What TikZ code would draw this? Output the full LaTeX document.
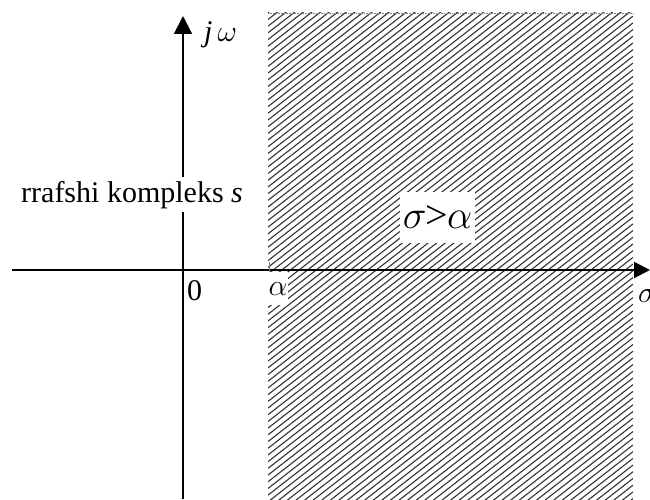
\documentclass[tikz,border=0pt]{standalone}
\usepackage{fix-cm}
\usepackage{fontspec}
\setmainfont{Liberation Serif}
\usetikzlibrary{arrows.meta}
\tikzset{
  axis/.style={line width=2pt, -{Triangle[length=16pt,width=16pt]}},
  hatchline/.style={line width=1.1pt, black!80},
  lbl/.style={font=\fontsize{30}{34}\selectfont, inner sep=0pt},
  biglbl/.style={font=\fontsize{40}{44}\selectfont, fill=white, inner sep=0pt, minimum width=75pt, minimum height=51pt},
}
\begin{document}
\begin{tikzpicture}[x=1pt,y=1pt]
\useasboundingbox (0,0) rectangle (650,499);
% hatched half plane
\begin{scope}
\clip (268,0) rectangle (633,486);
\foreach \c in {-500,-493.3,...,300}{
  \draw[hatchline] (268,{\c+0.78*268}) -- (633,{\c+0.78*633});
}
\end{scope}
\draw[gray, densely dotted, line width=0.6pt] (268,486) -- (633,486);
% axes
\coordinate (xs) at (12,229);
\coordinate (xe) at (650,229);
\coordinate (ys) at (183,0);
\coordinate (ye) at (183,483);
\draw[axis] (xs) -- (xe);
\draw[axis, -{Triangle[length=18pt,width=18pt]}] (ys) -- (ye);
% tick at alpha
\coordinate (t1) at (269,237);
\coordinate (t2) at (269,221);
\draw[gray, line width=1pt] (t1) -- (t2);
% labels
\node[lbl, anchor=base west, fill=white, inner xsep=6pt, inner ysep=4pt] (plane) at (15,297) {rrafshi kompleks \textit{s}};
\node[lbl, anchor=base west] (jw) at (204,457) {\textit{j}\,$\omega$};
\node[lbl, anchor=base west] (zero) at (187,199) {0};
\node[lbl, anchor=north west, fill=white, inner xsep=0.5pt, inner ysep=10pt] (alpha) at (268,227) {$\alpha$};
\node[lbl, anchor=base west] (sigma) at (638,197) {$\sigma$};
\node[biglbl] (cond) at (437.5,281.5) {$\sigma$\kern-1pt>\kern-1pt$\alpha$};
\end{tikzpicture}
\end{document}
